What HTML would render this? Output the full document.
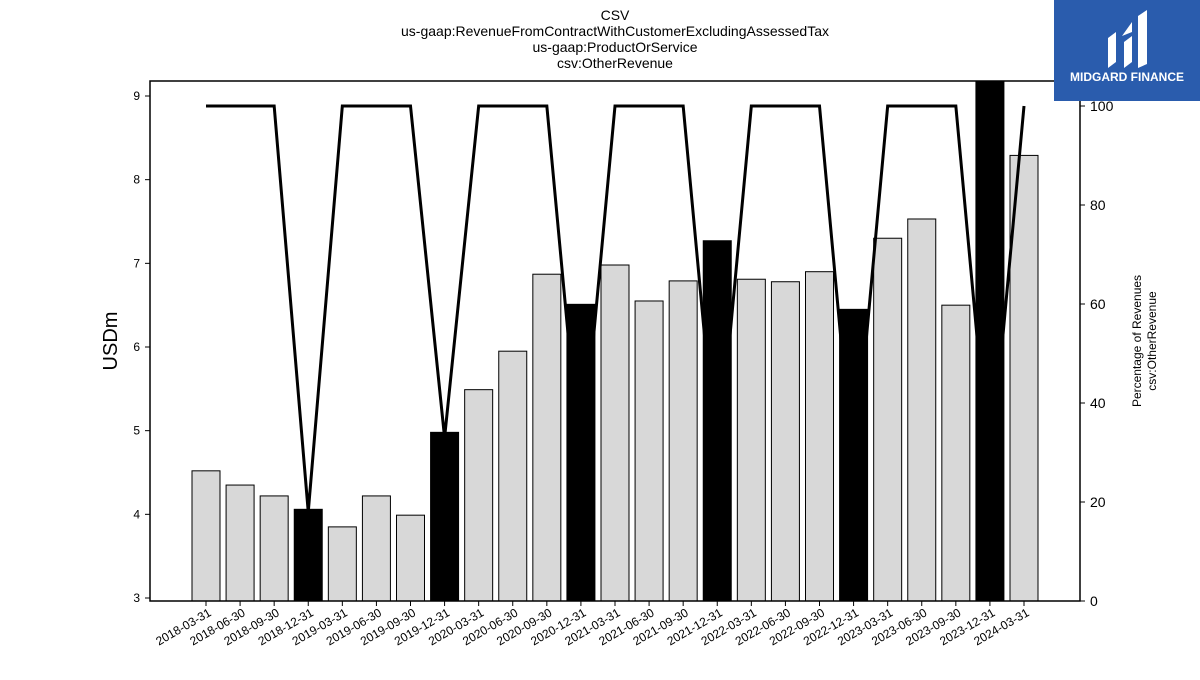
<!DOCTYPE html>
<html><head><meta charset="utf-8"><style>
body{margin:0;background:#fff;font-family:"Liberation Sans",sans-serif}
</style></head><body>
<svg id="chart" width="1200" height="675" xmlns="http://www.w3.org/2000/svg" font-family="Liberation Sans, sans-serif">
<g font-size="14" text-anchor="middle">
<text x="615" y="20">CSV</text>
<text x="615" y="36">us-gaap:RevenueFromContractWithCustomerExcludingAssessedTax</text>
<text x="615" y="52">us-gaap:ProductOrService</text>
<text x="615" y="68">csv:OtherRevenue</text>
</g>
<g id="plot"></g>
<g>
<rect x="1054" y="0" width="146" height="101" fill="#2a5cad"/>
<path d="M1108 68 L1108 38 L1116 32 L1116 62 Z M1124 68 L1124 42 L1132 36 L1132 62 Z M1138 68 L1138 16 L1147 10 L1147 64 Z M1122 36 L1132 22 L1132 32 Z" fill="#fff"/>
<text x="1127" y="81" fill="#fff" font-size="12" font-weight="bold" text-anchor="middle">MIDGARD FINANCE</text>
</g>
</svg>
<script>
const categories=["2018-03-31","2018-06-30","2018-09-30","2018-12-31","2019-03-31","2019-06-30","2019-09-30","2019-12-31","2020-03-31","2020-06-30","2020-09-30","2020-12-31","2021-03-31","2021-06-30","2021-09-30","2021-12-31","2022-03-31","2022-06-30","2022-09-30","2022-12-31","2023-03-31","2023-06-30","2023-09-30","2023-12-31","2024-03-31"];
const revenue=[4.52,4.35,4.22,4.06,3.85,4.22,3.99,4.98,5.49,5.95,6.87,6.51,6.98,6.55,6.79,7.27,6.81,6.78,6.90,6.45,7.30,7.53,6.50,9.30,8.29];
const pct=[100,100,100,18,100,100,100,33,100,100,100,26,100,100,100,26,100,100,100,25,100,100,100,25,100];
const leftTicks=[3,4,5,6,7,8,9];
const rightTicks=[0,20,40,60,80,100];
const NS="http://www.w3.org/2000/svg";
const L=150,R=1080,T=81,B=601;
const yL=v=>598-(v-3)*(502/6);
const yR=v=>601-v*4.95;
const xC=i=>206+i*(818/24);
const g=document.getElementById('plot');
function mk(t,a){const e=document.createElementNS(NS,t);for(const k in a)e.setAttribute(k,a[k]);g.appendChild(e);return e;}
const clip=mk('clipPath',{id:'cp'});const cr=document.createElementNS(NS,'rect');cr.setAttribute('x',L);cr.setAttribute('y',T);cr.setAttribute('width',R-L);cr.setAttribute('height',B-T);clip.appendChild(cr);
revenue.forEach((v,i)=>{const q4=categories[i].endsWith('12-31');const top=yL(v);
const r=mk('rect',{x:xC(i)-14,y:top,width:28,height:B-top,fill:q4?'#000':'#d8d8d8',stroke:'#000','stroke-width':1,'clip-path':'url(#cp)'});

});
const pl=mk('polyline',{points:pct.map((p,i)=>xC(i)+','+yR(p)).join(' '),fill:'none',stroke:'#000','stroke-width':3,'clip-path':'url(#cp)'});


const fr=mk('rect',{x:L,y:T,width:R-L,height:B-T,fill:'none',stroke:'#000','stroke-width':1.5});


leftTicks.forEach(t=>{const y=yL(t);mk('line',{x1:L-5,x2:L,y1:y,y2:y,stroke:'#000'});
const tx=mk('text',{x:L-10,y:y+4,'font-size':12,'text-anchor':'end'});tx.textContent=t;

});
rightTicks.forEach(t=>{const y=yR(t);mk('line',{x1:R,x2:R+5,y1:y,y2:y,stroke:'#000'});
const tx=mk('text',{x:R+10,y:y+5,'font-size':14});tx.textContent=t;

});
categories.forEach((c,i)=>{const x=xC(i);mk('line',{x1:x,x2:x,y1:B,y2:B+5,stroke:'#000'});
const tx=mk('text',{x:x+6,y:B+14,'font-size':12,'text-anchor':'end',transform:`rotate(-30 ${x+6} ${B+14})`});tx.textContent=c;

});
const yt=mk('text',{x:117,y:341,'font-size':20,'text-anchor':'middle',transform:'rotate(-90 117 341)'});yt.textContent='USDm';


const rt=mk('text',{x:1141,y:341,'font-size':12,'text-anchor':'middle',transform:'rotate(-90 1141 341)'});rt.textContent='Percentage of Revenues';


const rt2=mk('text',{x:1156,y:341,'font-size':12,'text-anchor':'middle',transform:'rotate(-90 1156 341)'});rt2.textContent='csv:OtherRevenue';


</script>
</body></html>
